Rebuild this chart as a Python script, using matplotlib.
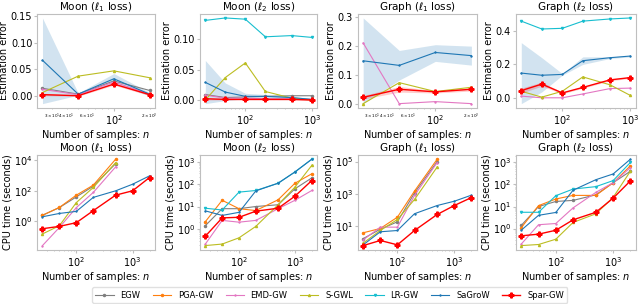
import numpy as np
from matplotlib import pyplot as plt

# sample sizes
n4 = [25, 50, 100, 200]
n6 = [25, 50, 100, 200, 500, 1000]
n7 = [25, 50, 100, 200, 500, 1000, 2000]

methods = ['EGW', 'PGA-GW', 'EMD-GW', 'S-GWL', 'LR-GW', 'SaGroW', 'Spar-GW']
colors = ['tab:gray', 'tab:orange', 'tab:pink', 'tab:olive', 'tab:cyan', 'tab:blue', 'red']
markers = ['o', 'o', '+', '^', 'v', '+', 'P']

# estimation error (top row)
moon1_err = {
    'EGW': [0.014, 0.003, 0.028, 0.010],
    'EMD-GW': [0.012, 0.002, 0.026, 0.003],
    'S-GWL': [0.006, 0.037, 0.047, 0.034],
    'SaGroW': [0.067, 0.003, 0.032, 0.003],
    'Spar-GW': [0.002, 0.000, 0.022, 0.002],
}
moon1_band_sagrow = ([-0.015, 0.001, 0.024, 0.000], [0.147, 0.005, 0.042, 0.006])
moon1_band_spar = ([0.000, -0.001, 0.020, 0.000], [0.004, 0.001, 0.024, 0.004])

moon2_err = {
    'EGW': [0.009, 0.004, 0.005, 0.006, 0.007, 0.007],
    'EMD-GW': [0.008, 0.003, 0.003, 0.002, 0.002, 0.001],
    'S-GWL': [0.000, 0.037, 0.061, 0.014, 0.003, 0.000],
    'LR-GW': [0.131, 0.135, 0.133, 0.104, 0.106, 0.103],
    'SaGroW': [0.029, 0.013, 0.006, 0.006, 0.004, 0.001],
    'Spar-GW': [0.002, 0.001, 0.001, 0.001, 0.001, 0.000],
}
moon2_band_sagrow = ([-0.006, -0.001, 0.002, 0.003, 0.002, 0.000],
                     [0.065, 0.028, 0.011, 0.009, 0.006, 0.002])
moon2_band_spar = ([0.000, 0.000, 0.000, 0.000, 0.000, -0.001],
                   [0.004, 0.002, 0.002, 0.002, 0.002, 0.001])

graph1_err = {
    'EMD-GW': [0.211, 0.000, 0.007, 0.000],
    'S-GWL': [0.000, 0.073, 0.042, 0.057],
    'SaGroW': [0.149, 0.133, 0.178, 0.167],
    'Spar-GW': [0.022, 0.050, 0.041, 0.050],
}
graph1_band_sagrow = ([0.000, 0.082, 0.147, 0.134], [0.298, 0.185, 0.205, 0.200])
graph1_band_spar = ([0.016, 0.040, 0.037, 0.044], [0.028, 0.060, 0.045, 0.056])

graph2_err = {
    'EMD-GW': [0.010, 0.000, 0.000, 0.023, 0.055, 0.058],
    'S-GWL': [0.039, 0.004, 0.039, 0.125, 0.078, 0.014],
    'LR-GW': [0.459, 0.412, 0.416, 0.459, 0.472, 0.478],
    'SaGroW': [0.148, 0.135, 0.140, 0.222, 0.240, 0.250],
    'Spar-GW': [0.043, 0.082, 0.029, 0.062, 0.107, 0.121],
}
graph2_band_sagrow = ([-0.035, 0.035, 0.135, 0.200, 0.235, 0.245],
                      [0.330, 0.240, 0.145, 0.245, 0.245, 0.252])
graph2_band_spar = ([0.028, 0.070, 0.024, 0.057, 0.102, 0.116],
                    [0.058, 0.094, 0.034, 0.067, 0.112, 0.126])

# CPU time in seconds (bottom row)
moon1_time = {
    'EGW': [2.5, 8, 40, 200, 6000],
    'PGA-GW': [2.5, 8.2, 52, 235, 11700],
    'EMD-GW': [0.026, 0.4, 8, 78, 3700],
    'S-GWL': [0.15, 0.52, 17, 165, 7000],
    'SaGroW': [2.0, 3.3, 4.5, 37, 100, 270, 950],
    'Spar-GW': [0.33, 0.47, 0.82, 5, 52, 100, 740],
}
moon2_time = {
    'EGW': [1.4, 8, 8, 10, 12, 62, 190],
    'PGA-GW': [2.1, 19, 8, 6.6, 20, 110, 290],
    'EMD-GW': [0.21, 2.4, 2.0, 2.4, 8, 19, 52],
    'S-GWL': [0.18, 0.21, 0.4, 1.3, 12, 74, 690],
    'LR-GW': [8.4, 7, 44, 52, 110, 350, 1300],
    'SaGroW': [6.4, 4, 5.5, 50, 110, 350, 1300],
    'Spar-GW': [0.47, 3.1, 3.3, 6.2, 8.4, 29, 145],
}
graph1_time = {
    'EGW': [1.7, 6.5, 18.6, 1150, 100000],
    'PGA-GW': [3.9, 7.2, 36, 1500, 140000],
    'EMD-GW': [1.4, 8.7, 8.7, 800, 87000],
    'S-GWL': [0.9, 5.4, 26, 450, 46000],
    'SaGroW': [0.7, 4.5, 5.4, 59, 190, 350, 830],
    'Spar-GW': [0.63, 1.3, 0.7, 5.4, 53, 190, 590],
}
graph2_time = {
    'EGW': [1.4, 10, 17, 19, 34, 120, 400],
    'PGA-GW': [1.1, 11, 22, 32, 32, 120, 700],
    'EMD-GW': [0.2, 1.5, 1.7, 8.7, 44, 120, 580],
    'S-GWL': [0.17, 0.19, 0.33, 1.9, 4.7, 26, 400],
    'LR-GW': [5.5, 5.5, 31, 62, 80, 150, 1000],
    'SaGroW': [0.85, 4, 5.4, 55, 165, 300, 1400],
    'Spar-GW': [0.47, 0.56, 0.84, 2.5, 5.5, 24, 146],
}

titles = [r'Moon ($\ell_1$ loss)', r'Moon ($\ell_2$ loss)',
          r'Graph ($\ell_1$ loss)', r'Graph ($\ell_2$ loss)']

top_panels = [
    (moon1_err, n4, moon1_band_sagrow, moon1_band_spar),
    (moon2_err, n6, moon2_band_sagrow, moon2_band_spar),
    (graph1_err, n4, graph1_band_sagrow, graph1_band_spar),
    (graph2_err, n6, graph2_band_sagrow, graph2_band_spar),
]
bottom_panels = [moon1_time, moon2_time, graph1_time, graph2_time]

fig = plt.figure(figsize=(6.4, 3.04), dpi=100)
lefts = [0.058, 0.3125, 0.559, 0.806]
widths = [0.184, 0.183, 0.186, 0.1875]


def style_axis(ax):
    for s in ax.spines.values():
        s.set_color('0.75')
        s.set_linewidth(0.8)
    ax.tick_params(which='major', labelsize=7, length=2, color='0.75', pad=1.5)
    ax.tick_params(which='minor', labelsize=3, length=1, color='0.75', pad=1.5)
    ax.set_xlabel('Number of samples: $n$', fontsize=7, labelpad=1)
    ax.set_xscale('log')


def draw(ax, data):
    handles = []
    for m, c, mk in zip(methods, colors, markers):
        if m not in data:
            continue
        y = data[m]
        n = n7[:len(y)]
        lw, ms = (1.0, 3.5) if m == 'Spar-GW' else (0.8, 1.5)
        h, = ax.plot(n, y, color=c, marker=mk, markersize=ms, linewidth=lw, label=m)
        handles.append(h)
    return handles


legend_handles = {}
for i in range(4):
    data, n, band_s, band_r = top_panels[i]
    ax = fig.add_axes([lefts[i], 0.645, widths[i], 0.31])
    ax.fill_between(n, band_s[0], band_s[1], color='tab:blue', alpha=0.2, linewidth=0)
    ax.fill_between(n, band_r[0], band_r[1], color='red', alpha=0.2, linewidth=0)
    draw(ax, data)
    style_axis(ax)
    ax.set_title(titles[i], fontsize=7.5, pad=1.5)
    ax.set_ylabel('Estimation error', fontsize=7, labelpad=1)

    ax2 = fig.add_axes([lefts[i], 0.178, widths[i], 0.3125])
    for h in draw(ax2, bottom_panels[i]):
        legend_handles[h.get_label()] = h
    style_axis(ax2)
    ax2.set_yscale('log')
    ax2.set_title(titles[i], fontsize=7.5, pad=1.5)
    ax2.set_ylabel('CPU time (seconds)', fontsize=7, labelpad=1)

fig.legend([legend_handles[m] for m in methods], methods, loc='lower center',
           ncol=7, fontsize=6, frameon=True, bbox_to_anchor=(0.515, -0.01),
           columnspacing=1.5, handlelength=2.2, edgecolor='0.85')

plt.savefig('out.png', dpi=100)
